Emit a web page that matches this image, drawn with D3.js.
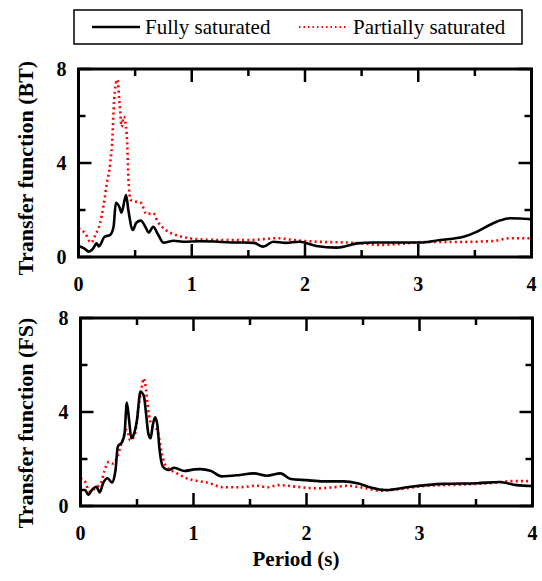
<!DOCTYPE html>
<html><head><meta charset="utf-8">
<script src="https://cdn.jsdelivr.net/npm/d3@7"></script>
<style>body{margin:0;background:#fff}svg{display:block}</style>
</head><body>
<script>
// ---- data ----
const btFullT = [0,0.05,0.09,0.13,0.16,0.18,0.23,0.28,0.31,0.33,0.36,0.38,0.42,0.44,0.48,0.51,0.55,0.59,0.62,0.66,0.70,0.75,0.84,0.92,1.07,1.2,1.35,1.45,1.55,1.63,1.72,1.83,1.95,2.1,2.28,2.46,2.6,2.75,3.04,3.19,3.4,3.52,3.63,3.72,3.81,3.9,4.0];
const btFullV = [0.47,0.37,0.23,0.37,0.58,0.45,0.86,0.94,1.3,2.31,2.14,1.89,2.64,2.0,1.15,1.46,1.55,1.29,1.04,1.29,0.98,0.61,0.69,0.65,0.67,0.66,0.62,0.62,0.6,0.44,0.65,0.6,0.65,0.47,0.4,0.58,0.62,0.62,0.62,0.72,0.86,1.08,1.36,1.55,1.65,1.64,1.6];
const btPartT = [0,0.06,0.11,0.15,0.19,0.22,0.25,0.28,0.30,0.31,0.33,0.345,0.36,0.37,0.38,0.40,0.41,0.43,0.44,0.46,0.51,0.55,0.60,0.66,0.70,0.77,0.86,0.98,1.07,1.3,1.5,1.76,1.9,2.16,2.35,2.51,2.66,2.85,3.07,3.36,3.66,3.81,4.0];
const btPartV = [1.22,1.0,0.61,0.94,1.43,2.14,3.13,3.99,5.12,6.26,7.39,7.55,6.68,6.11,5.54,5.97,5.83,4.84,3.42,2.43,2.35,2.31,1.83,1.86,1.5,1.15,0.94,0.8,0.75,0.72,0.72,0.8,0.72,0.64,0.62,0.58,0.51,0.56,0.64,0.64,0.68,0.8,0.8];
const fsFullT = [0,0.04,0.07,0.10,0.14,0.17,0.20,0.24,0.28,0.31,0.33,0.37,0.39,0.41,0.43,0.45,0.47,0.50,0.53,0.56,0.58,0.60,0.62,0.64,0.66,0.68,0.70,0.73,0.78,0.83,0.92,1.01,1.06,1.15,1.25,1.41,1.53,1.65,1.77,1.86,2.0,2.15,2.33,2.45,2.56,2.7,2.92,3.21,3.51,3.71,3.86,4.0];
const fsFullV = [0.68,0.68,0.47,0.68,0.82,0.58,0.97,1.18,1.0,1.53,2.52,2.74,3.09,4.4,3.66,2.88,3.02,3.66,4.86,4.69,3.94,3.09,2.88,3.45,3.77,3.45,2.38,1.67,1.53,1.63,1.49,1.56,1.57,1.5,1.26,1.32,1.39,1.29,1.39,1.15,1.1,1.05,1.05,0.97,0.8,0.68,0.82,0.94,0.97,1.02,0.89,0.85];
const fsPartT = [0,0.04,0.08,0.13,0.18,0.21,0.25,0.29,0.32,0.36,0.41,0.44,0.48,0.51,0.54,0.56,0.58,0.60,0.63,0.67,0.69,0.72,0.76,0.85,0.94,1.04,1.12,1.26,1.41,1.56,1.65,1.75,1.91,2.09,2.24,2.36,2.53,2.65,2.77,3.06,3.36,3.65,3.83,4.0];
const fsPartV = [1.18,1.04,0.62,0.76,0.97,1.46,1.88,1.81,2.02,2.6,3.23,2.8,3.02,4.08,5.0,5.43,4.94,4.08,3.45,3.3,3.02,2.24,1.67,1.4,1.18,1.06,1.0,0.8,0.8,0.86,0.8,0.89,0.82,0.75,0.8,0.86,0.75,0.65,0.69,0.86,0.91,0.98,1.06,1.06];
const xTickLabels = [0,1,2,3,4];
const yTickLabels = [0,4,8];
const xMinorTicks = [0.5,1.5,2.5,3.5];
const yMinorTicks = [2,6];
const seriesNames = ["Fully saturated","Partially saturated"];
const panelTitles = ["Transfer function (BT)","Transfer function (FS)"];

const W = 542, H = 581;
const FONT = "'Liberation Serif','Times New Roman',serif";
const svg = d3.select("body").append("svg").attr("width", W).attr("height", H);

const panels = [
  {left:78.5, right:531.5, top:69, bottom:257, titleY:168, full:[btFullT,btFullV], part:[btPartT,btPartV], title:panelTitles[0]},
  {left:80.5, right:532.5, top:318, bottom:506, titleY:423, full:[fsFullT,fsFullV], part:[fsPartT,fsPartV], title:panelTitles[1]}
];

panels.forEach(p => {
  const x = d3.scaleLinear().domain([0,4]).range([p.left, p.right]);
  const y = d3.scaleLinear().domain([0,8]).range([p.bottom, p.top]);
  const g = svg.append("g");
  const line = d3.line().x(d => x(d[0])).y(d => y(d[1])).curve(d3.curveMonotoneX);
  const full = p.full[0].map((t,i) => [t, p.full[1][i]]);
  const part = p.part[0].map((t,i) => [t, p.part[1][i]]);
  g.append("path").datum(part).attr("d", line).attr("fill","none")
    .attr("stroke","#ff0000").attr("stroke-width",2.6).attr("stroke-dasharray","2,3.2");
  g.append("path").datum(full).attr("d", line).attr("fill","none")
    .attr("stroke","#000").attr("stroke-width",2.6).attr("stroke-linejoin","round");

  // ticks (inward, all sides)
  const tk = g.append("g").attr("stroke","#000").attr("stroke-width",2.5);
  const xt = xTickLabels.map(v=>[v,13]).concat(xMinorTicks.map(v=>[v,7]));
  xt.forEach(([v,L]) => {
    tk.append("line").attr("x1",x(v)).attr("x2",x(v)).attr("y1",y(0)).attr("y2",y(0)-L);
    tk.append("line").attr("x1",x(v)).attr("x2",x(v)).attr("y1",y(8)).attr("y2",y(8)+L);
  });
  const yt = yTickLabels.map(v=>[v,13]).concat(yMinorTicks.map(v=>[v,7]));
  yt.forEach(([v,L]) => {
    tk.append("line").attr("y1",y(v)).attr("y2",y(v)).attr("x1",x(0)).attr("x2",x(0)+L);
    tk.append("line").attr("y1",y(v)).attr("y2",y(v)).attr("x1",x(4)).attr("x2",x(4)-L);
  });
  g.append("rect").attr("x",p.left).attr("y",p.top).attr("width",p.right-p.left).attr("height",p.bottom-p.top)
    .attr("fill","none").attr("stroke","#000").attr("stroke-width",3);

  // tick labels
  xTickLabels.forEach(v => g.append("text").attr("x",x(v)).attr("y",p.bottom+34)
    .attr("text-anchor","middle").attr("font-family",FONT).attr("font-weight","bold").attr("font-size",20).text(v));
  yTickLabels.forEach(v => g.append("text").attr("x",p.left-12).attr("y",y(v)).attr("dy","0.35em")
    .attr("text-anchor","end").attr("font-family",FONT).attr("font-weight","bold").attr("font-size",20).text(v));
  g.append("text").attr("transform",`translate(33,${p.titleY}) rotate(-90)`)
    .attr("text-anchor","middle").attr("font-family",FONT).attr("font-weight","bold").attr("font-size",22).text(p.title);
});

svg.append("text").attr("x",296).attr("y",566).attr("text-anchor","middle")
  .attr("font-family",FONT).attr("font-weight","bold").attr("font-size",21).text("Period (s)");

// legend
const lg = svg.append("g");
lg.append("rect").attr("x",74).attr("y",10).attr("width",448).attr("height",34)
  .attr("fill","#fff").attr("stroke","#000").attr("stroke-width",1.5);
lg.append("line").attr("x1",92).attr("x2",140).attr("y1",27).attr("y2",27).attr("stroke","#000").attr("stroke-width",2.6);
lg.append("text").attr("x",145).attr("y",34).attr("font-family",FONT).attr("font-size",21).text(seriesNames[0]);
lg.append("line").attr("x1",299).attr("x2",346).attr("y1",27).attr("y2",27).attr("stroke","#ff0000").attr("stroke-width",2).attr("stroke-dasharray","1.5,3");
lg.append("text").attr("x",353).attr("y",34).attr("font-family",FONT).attr("font-size",21).text(seriesNames[1]);
</script>
</body></html>
